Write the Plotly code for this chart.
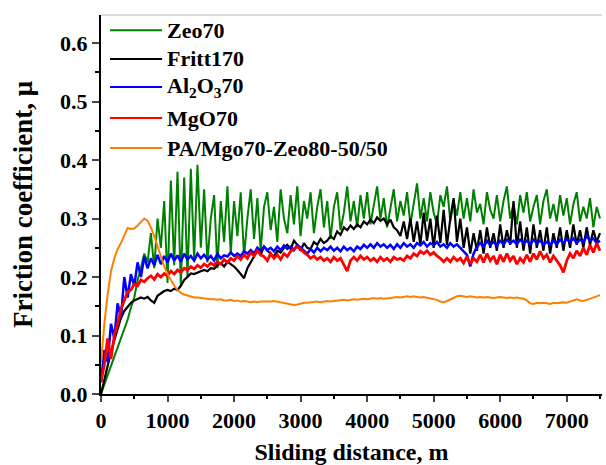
import plotly.graph_objects as go

# Sliding distance grid, m (one reading every 50 m)
distance = list(range(0, 7501, 50))

# Friction coefficient readings, one row per 500 m
zeo70 = [
    0.000, 0.015, 0.032, 0.048, 0.064, 0.080, 0.095, 0.110, 0.127, 0.148,
    0.165, 0.195, 0.215, 0.240, 0.225, 0.275, 0.215, 0.300, 0.250, 0.330,
    0.190, 0.365, 0.220, 0.380, 0.185, 0.370, 0.200, 0.385, 0.230, 0.392,
    0.250, 0.350, 0.225, 0.300, 0.340, 0.215, 0.330, 0.260, 0.355, 0.240,
    0.330, 0.270, 0.345, 0.235, 0.300, 0.350, 0.265, 0.335, 0.245, 0.320,
    0.345, 0.280, 0.320, 0.260, 0.350, 0.300, 0.275, 0.340, 0.290, 0.355,
    0.270, 0.330, 0.300, 0.345, 0.275, 0.320, 0.350, 0.285, 0.330, 0.265,
    0.320, 0.345, 0.280, 0.310, 0.355, 0.295, 0.330, 0.285, 0.340, 0.300,
    0.345, 0.290, 0.325, 0.355, 0.300, 0.335, 0.285, 0.320, 0.350, 0.295,
    0.330, 0.305, 0.345, 0.290, 0.325, 0.360, 0.300, 0.335, 0.295, 0.345,
    0.310, 0.290, 0.340, 0.320, 0.355, 0.295, 0.330, 0.305, 0.345, 0.300,
    0.335, 0.295, 0.350, 0.310, 0.325, 0.290, 0.345, 0.315, 0.300, 0.340,
    0.295, 0.330, 0.355, 0.300, 0.325, 0.290, 0.340, 0.310, 0.345, 0.295,
    0.320, 0.340, 0.290, 0.330, 0.350, 0.300, 0.325, 0.295, 0.340, 0.305,
    0.335, 0.290, 0.325, 0.345, 0.295, 0.320, 0.300, 0.335, 0.285, 0.320,
    0.300,
]

fritt170 = [
    0.000, 0.025, 0.050, 0.072, 0.092, 0.110, 0.130, 0.142, 0.150, 0.156,
    0.160, 0.163, 0.165, 0.163, 0.166, 0.160, 0.156, 0.168, 0.172, 0.176,
    0.178, 0.176, 0.180, 0.178, 0.185, 0.195, 0.200, 0.206, 0.205, 0.208,
    0.210, 0.212, 0.210, 0.215, 0.214, 0.220, 0.224, 0.218, 0.226, 0.222,
    0.218, 0.212, 0.205, 0.198, 0.215, 0.225, 0.235, 0.245, 0.238, 0.252,
    0.245, 0.240, 0.235, 0.245, 0.242, 0.250, 0.255, 0.248, 0.262, 0.255,
    0.245, 0.258, 0.250, 0.248, 0.260, 0.255, 0.265, 0.258, 0.262, 0.270,
    0.265, 0.278, 0.272, 0.285, 0.280, 0.288, 0.282, 0.290, 0.285, 0.295,
    0.290, 0.298, 0.292, 0.302, 0.296, 0.300, 0.290, 0.298, 0.285, 0.280,
    0.270, 0.295, 0.265, 0.300, 0.260, 0.295, 0.255, 0.310, 0.262, 0.300,
    0.250, 0.305, 0.258, 0.315, 0.255, 0.300, 0.335, 0.260, 0.300, 0.250,
    0.285, 0.240, 0.275, 0.245, 0.280, 0.240, 0.285, 0.250, 0.275, 0.245,
    0.290, 0.250, 0.280, 0.255, 0.330, 0.250, 0.295, 0.245, 0.285, 0.240,
    0.290, 0.250, 0.280, 0.245, 0.285, 0.240, 0.275, 0.250, 0.285, 0.245,
    0.280, 0.250, 0.290, 0.255, 0.280, 0.250, 0.285, 0.255, 0.280, 0.260,
    0.275,
]

al2o3_70 = [
    0.020, 0.075, 0.055, 0.120, 0.095, 0.155, 0.130, 0.200, 0.165, 0.205,
    0.185, 0.225, 0.200, 0.235, 0.215, 0.232, 0.220, 0.238, 0.222, 0.236,
    0.225, 0.240, 0.228, 0.237, 0.226, 0.240, 0.230, 0.236, 0.228, 0.240,
    0.232, 0.238, 0.230, 0.236, 0.228, 0.240, 0.232, 0.237, 0.235, 0.242,
    0.236, 0.240, 0.236, 0.244, 0.240, 0.246, 0.240, 0.250, 0.245, 0.252,
    0.246, 0.250, 0.244, 0.252, 0.246, 0.254, 0.248, 0.252, 0.246, 0.255,
    0.250, 0.245, 0.240, 0.248, 0.242, 0.250, 0.244, 0.250, 0.246, 0.252,
    0.245, 0.250, 0.244, 0.252, 0.246, 0.250, 0.244, 0.252, 0.248, 0.255,
    0.250, 0.256, 0.250, 0.258, 0.252, 0.256, 0.250, 0.255, 0.248, 0.256,
    0.250, 0.258, 0.252, 0.256, 0.250, 0.258, 0.254, 0.260, 0.252, 0.258,
    0.254, 0.260, 0.252, 0.256, 0.250, 0.258, 0.252, 0.256, 0.250, 0.245,
    0.238, 0.218, 0.240, 0.252, 0.258, 0.252, 0.262, 0.255, 0.260, 0.254,
    0.262, 0.256, 0.264, 0.258, 0.262, 0.256, 0.264, 0.258, 0.262, 0.256,
    0.264, 0.258, 0.262, 0.256, 0.260, 0.255, 0.262, 0.256, 0.264, 0.258,
    0.265, 0.260, 0.266, 0.258, 0.264, 0.260, 0.270, 0.262, 0.266, 0.258,
    0.262,
]

mgo70 = [
    0.020, 0.050, 0.095, 0.060, 0.100, 0.120, 0.145, 0.160, 0.175, 0.178,
    0.188, 0.185, 0.195, 0.192, 0.198, 0.202, 0.196, 0.205, 0.200, 0.206,
    0.202, 0.210, 0.205, 0.212, 0.208, 0.215, 0.212, 0.218, 0.214, 0.220,
    0.216, 0.222, 0.218, 0.224, 0.220, 0.226, 0.222, 0.230, 0.225, 0.232,
    0.228, 0.236, 0.230, 0.238, 0.232, 0.242, 0.236, 0.245, 0.238, 0.235,
    0.228, 0.240, 0.232, 0.238, 0.230, 0.240, 0.235, 0.244, 0.248, 0.252,
    0.248, 0.242, 0.238, 0.232, 0.236, 0.230, 0.234, 0.228, 0.232, 0.226,
    0.234, 0.228, 0.232, 0.222, 0.210, 0.228, 0.234, 0.228, 0.236, 0.230,
    0.234, 0.228, 0.232, 0.226, 0.234, 0.228, 0.232, 0.226, 0.234, 0.230,
    0.232, 0.228, 0.236, 0.232, 0.240, 0.236, 0.244, 0.240, 0.245, 0.238,
    0.242, 0.236, 0.232, 0.226, 0.232, 0.226, 0.234, 0.228, 0.232, 0.224,
    0.235, 0.222, 0.232, 0.226, 0.238, 0.225, 0.240, 0.228, 0.236, 0.222,
    0.238, 0.226, 0.240, 0.228, 0.236, 0.222, 0.232, 0.225, 0.238, 0.226,
    0.240, 0.230, 0.244, 0.232, 0.238, 0.225, 0.236, 0.228, 0.220, 0.208,
    0.228, 0.240, 0.232, 0.245, 0.236, 0.250, 0.238, 0.255, 0.242, 0.258,
    0.245,
]

pa_mgo_zeo = [
    0.053, 0.120, 0.170, 0.210, 0.232, 0.248, 0.258, 0.270, 0.284, 0.282,
    0.283, 0.288, 0.295, 0.300, 0.296, 0.285, 0.270, 0.252, 0.235, 0.218,
    0.205, 0.195, 0.185, 0.178, 0.173, 0.170, 0.168, 0.166, 0.165, 0.165,
    0.164, 0.164, 0.163, 0.162, 0.162, 0.161, 0.162, 0.160, 0.160, 0.161,
    0.159, 0.160, 0.158, 0.159, 0.158, 0.157, 0.158, 0.157, 0.158, 0.158,
    0.157, 0.158, 0.159, 0.158, 0.157, 0.156, 0.155, 0.153, 0.152, 0.153,
    0.155, 0.156, 0.156, 0.157, 0.157, 0.158, 0.157, 0.158, 0.159, 0.158,
    0.159, 0.160, 0.160, 0.161, 0.160, 0.161, 0.162, 0.161, 0.162, 0.163,
    0.162, 0.163, 0.164, 0.163, 0.164, 0.163, 0.163, 0.164, 0.165, 0.166,
    0.165, 0.166, 0.167, 0.166, 0.167, 0.166, 0.165, 0.166, 0.165, 0.164,
    0.163, 0.161, 0.158, 0.157, 0.159, 0.162, 0.165, 0.167, 0.168, 0.167,
    0.166, 0.167, 0.166, 0.165, 0.166, 0.165, 0.166, 0.165, 0.164, 0.165,
    0.166, 0.165, 0.164, 0.165, 0.164, 0.165, 0.164, 0.163, 0.160, 0.155,
    0.154, 0.156, 0.155, 0.156, 0.155, 0.154, 0.156, 0.155, 0.156, 0.157,
    0.156, 0.158, 0.160, 0.162, 0.160, 0.159, 0.161, 0.163, 0.165, 0.168,
    0.169,
]

series_names = ["Zeo70", "Fritt170", "Al<sub>2</sub>O<sub>3</sub>70", "MgO70",
                "PA/Mgo70-Zeo80-50/50"]
series_values = [zeo70, fritt170, al2o3_70, mgo70, pa_mgo_zeo]
series_colors = ["#008000", "#000000", "#0000FF", "#FF0000", "#FF8000"]
series_widths = [2.0, 2.2, 2.5, 2.8, 2.0]

x_ticks = [0, 1000, 2000, 3000, 4000, 5000, 6000, 7000]
y_ticks = [0.0, 0.1, 0.2, 0.3, 0.4, 0.5, 0.6]

FONT = "Liberation Serif, Times New Roman, serif"

fig = go.Figure()
for name, vals, color, width in zip(series_names, series_values, series_colors, series_widths):
    fig.add_trace(go.Scatter(
        x=distance, y=vals, mode="lines", name=name, showlegend=False,
        line=dict(color=color, width=width),
    ))

# Hand-placed legend in the upper-left corner of the plot area
shapes = [dict(type="line", xref="paper", yref="paper", x0=0, x1=1, y0=1, y1=1,
               line=dict(color="#bbbbbb", width=1))]
annotations = []
legend_rows = [0.960, 0.884, 0.810, 0.728, 0.649]
for name, color, yrow in zip(series_names, series_colors, legend_rows):
    shapes.append(dict(type="line", xref="paper", yref="paper",
                       x0=0.018, x1=0.122, y0=yrow, y1=yrow,
                       line=dict(color=color, width=2)))
    annotations.append(dict(xref="paper", yref="paper", x=0.128, y=yrow,
                            xanchor="left", yanchor="middle", showarrow=False,
                            text=name,
                            font=dict(family=FONT, size=22, color="black", weight="bold")))

fig.update_layout(
    width=606, height=465,
    margin=dict(l=101, r=4, t=15, b=71),
    paper_bgcolor="white", plot_bgcolor="white",
    shapes=shapes, annotations=annotations,
    font=dict(family=FONT, color="black"),
)

fig.update_xaxes(
    range=[0, 7530], tickvals=x_ticks, ticks="outside", ticklen=6, tickwidth=2,
    showline=True, linewidth=2, linecolor="black", showgrid=False, zeroline=False,
    minor=dict(dtick=500, tick0=0, ticks="outside", ticklen=3, tickwidth=1.5, tickcolor="black"),
    tickfont=dict(family=FONT, size=22, color="black", weight="bold"),
    title=dict(text="Sliding distance, m", standoff=12,
               font=dict(family=FONT, size=24, color="black", weight="bold")),
)
fig.update_yaxes(
    range=[0, 0.648], tickvals=y_ticks, tickformat=".1f", ticks="outside", ticklen=7, tickwidth=2,
    showline=True, linewidth=2, linecolor="black", showgrid=False, zeroline=False,
    minor=dict(dtick=0.05, tick0=0, ticks="outside", ticklen=4, tickwidth=1.5, tickcolor="black"),
    tickfont=dict(family=FONT, size=22, color="black", weight="bold"),
    title=dict(text="Friction coefficient, μ", standoff=20,
               font=dict(family=FONT, size=27, color="black", weight="bold")),
)

fig.write_html("out.html")
